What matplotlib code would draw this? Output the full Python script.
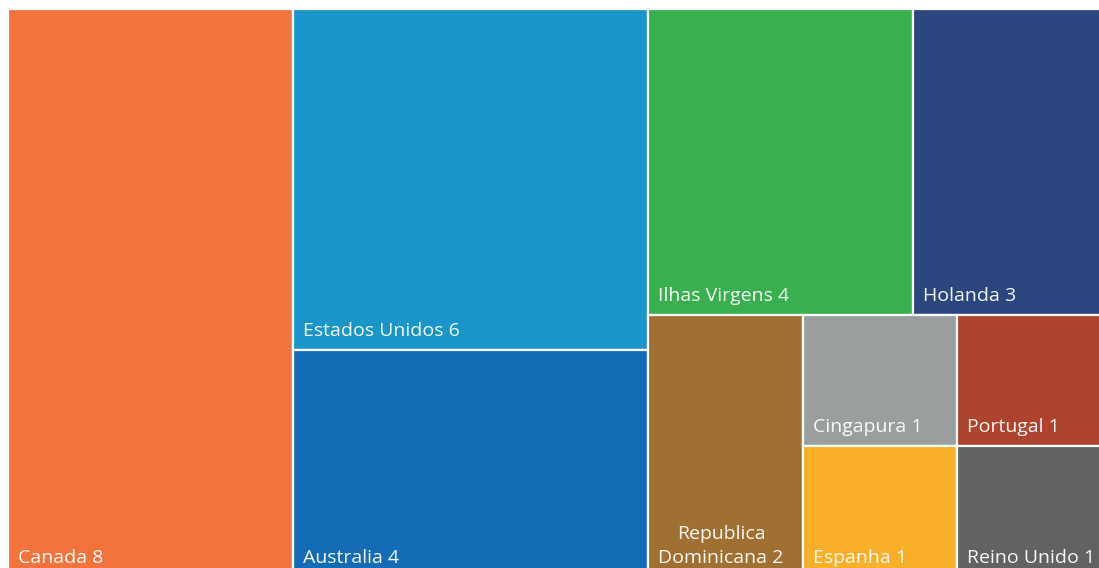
import matplotlib.pyplot as plt
from matplotlib.patches import Rectangle

plt.rc('font', family=['Open Sans', 'DejaVu Sans'])

paises = ['Canada', 'Estados Unidos', 'Australia', 'Ilhas Virgens', 'Holanda',
          'Republica\nDominicana', 'Cingapura', 'Espanha', 'Portugal', 'Reino Unido']
valores = [8, 6, 4, 4, 3, 2, 1, 1, 1, 1]
cores = ['#F2743C', '#1A95C9', '#146CB6', '#38B04F', '#2B457E',
         '#A07033', '#9A9E9E', '#F9AF2A', '#AE432F', '#616264']


def worst(row, length, scale):
    s = sum(row) * scale
    thick = s / length
    r = []
    for v in row:
        l = v * scale / thick
        r.append(max(thick / l, l / thick))
    return max(r)


def squarify(vals, x, y, w, h):
    # classic squarified treemap, returns list of (x, y, w, h) in screen coords
    rects = []
    vals = list(vals)
    while vals:
        scale = w * h / sum(vals)
        side = min(w, h)
        row = [vals[0]]
        i = 1
        while i < len(vals) and worst(row + [vals[i]], side, scale) <= worst(row, side, scale):
            row.append(vals[i])
            i += 1
        vals = vals[i:]
        thick = sum(row) * scale / side
        pos = 0
        for v in row:
            l = v * scale / thick
            if w >= h:  # column on the left
                rects.append((x, y + pos, thick, l))
            else:       # row on top
                rects.append((x + pos, y, l, thick))
            pos += l
        if w >= h:
            x += thick
            w -= thick
        else:
            y += thick
            h -= thick
    return rects


fig = plt.figure(figsize=(10.99, 5.68), dpi=100)
ax = fig.add_axes((0, 0, 1, 1))
ax.set_xlim(0, 1099)
ax.set_ylim(568, 0)
ax.axis('off')

# the treemap runs a little past the right and bottom edges (cropped screenshot)
rects = squarify(valores, 8, 9, 1103, 568)

for (rx, ry, rw, rh), nome, v, c in zip(rects, paises, valores, cores):
    ax.add_patch(Rectangle((rx, ry), rw, rh, facecolor=c, edgecolor='white', linewidth=1.6))
    ax.text(rx + 10, ry + rh - 10, '%s %d' % (nome, v), color='white', fontsize=14,
            ha='left', va='bottom', multialignment='center', linespacing=1.45, alpha=0.95)

fig.savefig('out.png', dpi=100)
